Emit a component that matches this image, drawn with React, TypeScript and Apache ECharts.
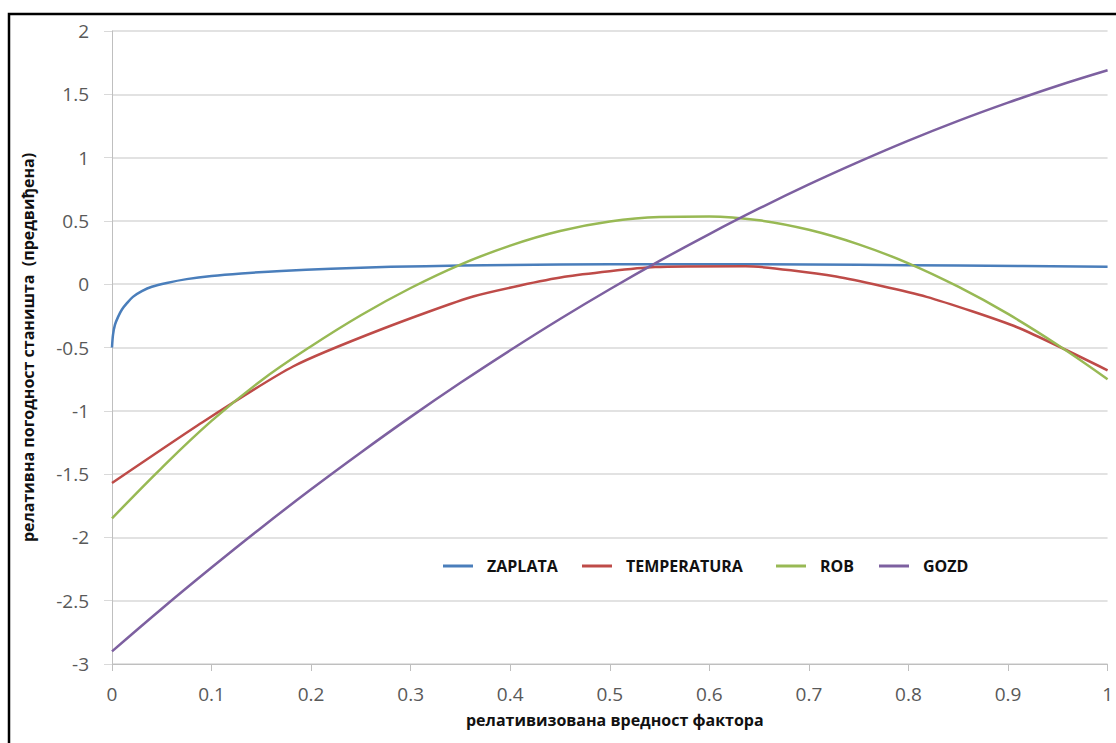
import React, { useEffect, useRef } from "react";
import * as echarts from "echarts";

const seriesNames = ["ZAPLATA", "TEMPERATURA", "ROB", "GOZD"];
const seriesColors = ["#4A7EBB", "#BE4B48", "#98B954", "#7D60A0"];

const zaplataX = [0, 0.001, 0.003, 0.006, 0.01, 0.015, 0.021, 0.03, 0.04, 0.055, 0.075, 0.1, 0.13, 0.17, 0.22, 0.28, 0.35, 0.45, 0.55, 0.65, 0.75, 0.85, 1.0];
const zaplataY = [-0.5, -0.4, -0.32, -0.26, -0.2, -0.15, -0.1, -0.055, -0.02, 0.01, 0.04, 0.065, 0.085, 0.105, 0.122, 0.137, 0.147, 0.155, 0.158, 0.157, 0.153, 0.148, 0.138];

const temperaturaX = [0, 0.0909, 0.1818, 0.2727, 0.3636, 0.4545, 0.5455, 0.6364, 0.7273, 0.8182, 0.9091, 1.0];
const temperaturaY = [-1.57, -1.09, -0.65, -0.35, -0.095, 0.058, 0.135, 0.142, 0.06, -0.1, -0.34, -0.68];

const robX = [0, 0.05, 0.1, 0.15, 0.2, 0.25, 0.3, 0.35, 0.4, 0.45, 0.5, 0.55, 0.6, 0.65, 0.7, 0.75, 0.8, 0.85, 0.9, 0.95, 1.0];
const robY = [-1.85, -1.45, -1.08, -0.76, -0.49, -0.245, -0.03, 0.155, 0.305, 0.42, 0.495, 0.53, 0.535, 0.505, 0.43, 0.315, 0.165, -0.02, -0.235, -0.48, -0.75];

const gozdX = [0, 0.05, 0.1, 0.15, 0.2, 0.25, 0.3, 0.35, 0.4, 0.45, 0.5, 0.55, 0.6, 0.65, 0.7, 0.75, 0.8, 0.85, 0.9, 0.95, 1.0];
const gozdY = [-2.9, -2.563, -2.238, -1.923, -1.62, -1.329, -1.048, -0.779, -0.522, -0.275, -0.04, 0.184, 0.396, 0.598, 0.788, 0.966, 1.134, 1.29, 1.434, 1.568, 1.69];

const xAxisTitle = "релативизована вредност фактора";
const yAxisTitle = "релативна погодност станишта  (предвиђена)";

const zip = (xs: number[], ys: number[]) => xs.map((x, i) => [x, ys[i]]);

export default function App() {
  const ref = useRef<HTMLDivElement>(null);
  useEffect(() => {
    if (!ref.current) return;
    const chart = echarts.init(ref.current, null, { renderer: "svg" });
    const dataSets = [
      { data: zip(zaplataX, zaplataY), smooth: 0.3 },
      { data: zip(temperaturaX, temperaturaY), smooth: 0.2 },
      { data: zip(robX, robY), smooth: 0.4 },
      { data: zip(gozdX, gozdY), smooth: 0.4 },
    ];
    const legendIconLeft = [438, 577, 771, 874];
    const font = "'Open Sans', 'Noto Sans', sans-serif";
    chart.setOption({
      animation: false,
      backgroundColor: "#ffffff",
      grid: { left: 112, right: 3, top: 31, bottom: 79, containLabel: false },
      legend: seriesNames.map((n, i) => ({
        data: [n],
        left: legendIconLeft[i],
        top: 553,
        icon: "rect",
        itemWidth: 30,
        itemHeight: 3,
        textStyle: {
          fontFamily: font,
          fontWeight: "bold",
          fontSize: 16,
          color: "#111",
          padding: [0, 0, 0, 9],
        },
      })),
      xAxis: {
        type: "value",
        min: 0,
        max: 1,
        interval: 0.1,
        name: xAxisTitle,
        nameLocation: "middle",
        nameGap: 48,
        nameTextStyle: { fontFamily: font, fontWeight: "bold", fontSize: 16, color: "#111", padding: [0, 0, 0, 10] },
        axisLine: { show: true, onZero: false, lineStyle: { color: "#BFBFBF", width: 1 } },
        axisTick: { show: true, length: 7, lineStyle: { color: "#BFBFBF" } },
        axisLabel: { fontFamily: font, fontSize: 19, color: "#595959", margin: 20 },
        splitLine: { show: false },
      },
      yAxis: {
        type: "value",
        min: -3,
        max: 2,
        interval: 0.5,
        name: yAxisTitle,
        nameLocation: "middle",
        nameGap: 76,
        nameTextStyle: { fontFamily: font, fontWeight: "bold", fontSize: 16, color: "#111" },
        axisLine: { show: true, onZero: false, lineStyle: { color: "#BFBFBF", width: 1 } },
        axisTick: { show: true, length: 8, lineStyle: { color: "#D9D9D9" } },
        axisLabel: { fontFamily: font, fontSize: 19, color: "#595959", margin: 23 },
        splitLine: { show: true, lineStyle: { color: "#D9D9D9", width: 1.5 } },
      },
      graphic: [
        {
          type: "rect",
          shape: { x: 9, y: 14, width: 1200, height: 800 },
          style: { fill: "none", stroke: "#000", lineWidth: 2.5 },
          silent: true,
          z: 100,
        },
      ],
      series: dataSets.map((d, i) => ({
        name: seriesNames[i],
        type: "line",
        data: d.data,
        smooth: d.smooth,
        showSymbol: false,
        symbol: "none",
        clip: true,
        lineStyle: { color: seriesColors[i], width: 2.5 },
        itemStyle: { color: seriesColors[i] },
      })),
    });
    return () => chart.dispose();
  }, []);
  return (
    <div
      ref={ref}
      style={{ position: "absolute", left: 0, top: 0, width: 1116, height: 743 }}
    />
  );
}
